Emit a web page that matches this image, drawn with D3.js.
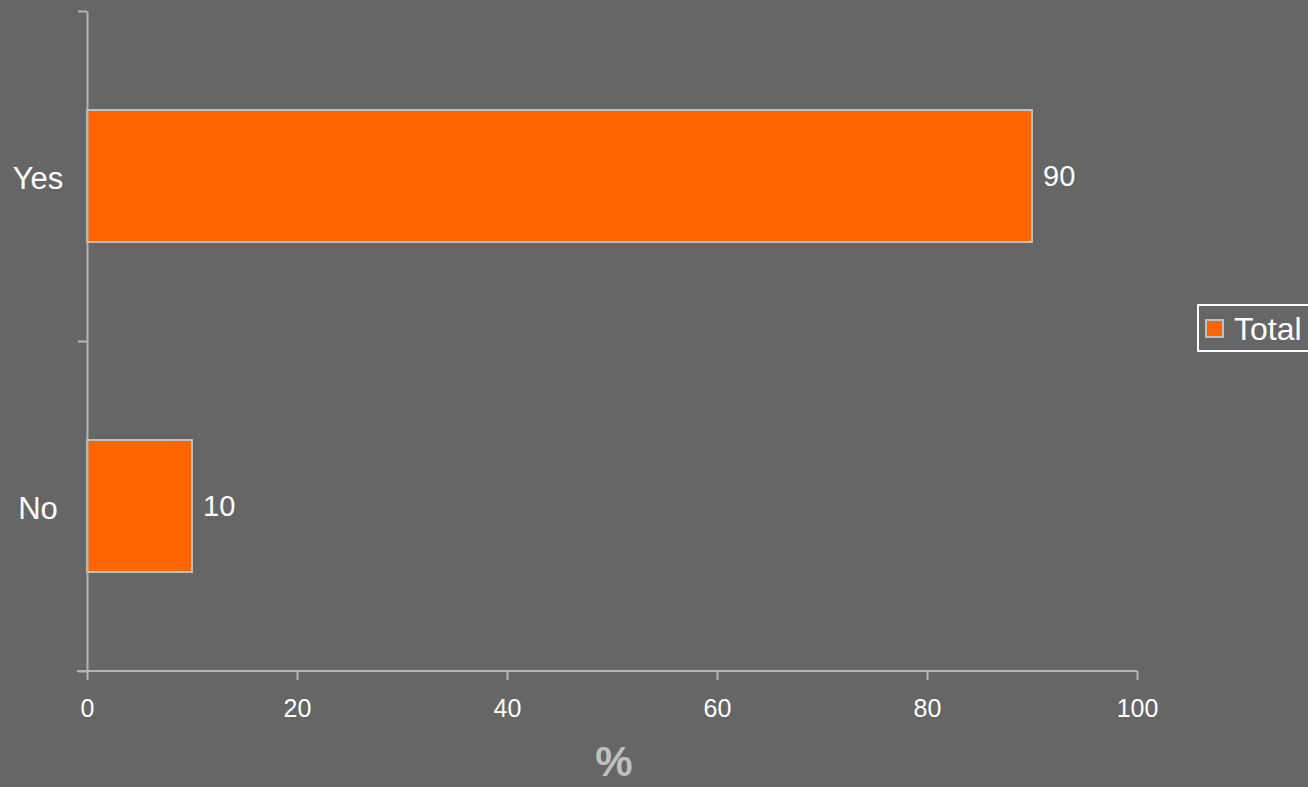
<!DOCTYPE html>
<html>
<head>
<meta charset="utf-8">
<script src="https://cdn.jsdelivr.net/npm/d3@7"></script>
<style>
  html, body { margin: 0; padding: 0; background: #666666; overflow: hidden; }
  svg { display: block; }
  text { font-family: "Liberation Sans", Arial, sans-serif; }
</style>
</head>
<body>
<script>
const categories = ["Yes", "No"];
const values = [90, 10];
const seriesName = "Total";
const xTicks = [0, 20, 40, 60, 80, 100];
const xTitle = "%";

const W = 1308, H = 787;
const svg = d3.select("body").append("svg").attr("width", W).attr("height", H);
svg.append("rect").attr("width", W).attr("height", H).attr("fill", "#666666");

const plotLeft = 87, plotRight = 1137, plotTop = 11, plotBottom = 671;
const axisColor = "#b4b4b4";

const x = d3.scaleLinear().domain([0, 100]).range([plotLeft, plotRight]);
const y = d3.scaleBand().domain(categories).range([plotTop, plotBottom]).paddingInner(0.6).paddingOuter(0.3);
const yEdge = d3.scaleLinear().domain([0, categories.length]).range([plotTop, plotBottom]);

// bars
svg.selectAll("rect.bar").data(categories).join("rect")
  .attr("class", "bar")
  .attr("x", x(0))
  .attr("y", d => y(d))
  .attr("width", (d, i) => x(values[i]) - x(0))
  .attr("height", y.bandwidth())
  .attr("fill", "#ff6600")
  .attr("stroke", "#c0c0c0")
  .attr("stroke-width", 2);

// value labels
svg.selectAll("text.val").data(categories).join("text")
  .attr("class", "val")
  .attr("x", (d, i) => x(values[i]) + 11)
  .attr("y", d => y(d) + y.bandwidth() / 2)
  .attr("dy", "0.35em")
  .attr("fill", "#ffffff")
  .attr("font-size", 29)
  .text((d, i) => values[i]);

// x axis
const gx = svg.append("g").attr("transform", `translate(0,${plotBottom})`)
  .call(d3.axisBottom(x).tickValues(xTicks).tickSize(9).tickSizeOuter(0).tickPadding(19));
gx.select(".domain").remove();
gx.append("line").attr("x1", plotLeft - 10).attr("x2", plotRight).attr("y1", 0).attr("y2", 0)
  .attr("stroke", axisColor).attr("stroke-width", 2);
gx.selectAll(".tick line").attr("stroke", axisColor).attr("stroke-width", 2);
gx.selectAll(".tick text").attr("fill", "#ffffff").attr("font-size", 25)
  .attr("font-family", "Liberation Sans, Arial, sans-serif");

// y axis (ticks at band edges)
const gy = svg.append("g").attr("transform", `translate(${plotLeft},0)`)
  .call(d3.axisLeft(yEdge).tickValues(d3.range(categories.length + 1)).tickSize(9).tickSizeOuter(0).tickFormat(""));
gy.select(".domain").attr("stroke", axisColor).attr("stroke-width", 2);
gy.selectAll(".tick line").attr("stroke", axisColor).attr("stroke-width", 2);

// category labels
svg.selectAll("text.cat").data(categories).join("text")
  .attr("class", "cat")
  .attr("x", 38)
  .attr("y", d => y(d) + y.bandwidth() / 2 + 2)
  .attr("dy", "0.35em")
  .attr("text-anchor", "middle")
  .attr("fill", "#ffffff")
  .attr("font-size", 31)
  .text(d => d);

// axis title
svg.append("text")
  .attr("x", 614).attr("y", 776)
  .attr("text-anchor", "middle")
  .attr("fill", "#c0c0c0")
  .attr("font-size", 42)
  .attr("font-weight", "bold")
  .text(xTitle);

// legend
const lg = svg.append("g");
lg.append("rect").attr("x", 1198).attr("y", 305).attr("width", 130).attr("height", 46)
  .attr("fill", "none").attr("stroke", "#ffffff").attr("stroke-width", 2);
lg.append("rect").attr("x", 1206).attr("y", 320).attr("width", 17).attr("height", 17)
  .attr("fill", "#ff6600").attr("stroke", "#c0c0c0").attr("stroke-width", 2);
lg.append("text").attr("x", 1234).attr("y", 329).attr("dy", "0.35em")
  .attr("fill", "#ffffff").attr("font-size", 32).text(seriesName);
</script>
</body>
</html>
